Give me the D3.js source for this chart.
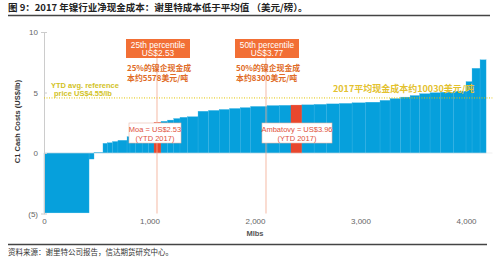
<!DOCTYPE html>
<html>
<head>
<meta charset="utf-8">
<script src="https://cdn.jsdelivr.net/npm/d3@7"></script>
<style>
  body { margin: 0; background: #fff; }
  text { font-family: "Liberation Sans", Arial, sans-serif; }
  .cjk { font-family: "Noto Sans CJK SC", sans-serif; }
</style>
</head>
<body>
<script>
// production width of each mine (Mlbs) and its C1 cash cost (US$/lb)
const widths = [427, 47, 85, 41, 50, 51, 86, 28, 55, 60, 60, 53, 66, 61, 60, 59, 71, 100,
  100, 100, 100, 100, 100, 154, 116, 111, 104, 115, 120, 120, 120, 130, 135,
  95, 100, 90, 90, 99, 101, 120, 120, 57, 76, 57];
const costs = [-4.95, -0.5, 0.05, 0.8, 0.85, 0.95, 1.05, 1.35, 1.5, 1.75, 2.05, 2.35, 2.53, 2.62, 2.72, 2.85, 2.95, 3.0,
  3.45, 3.52, 3.6, 3.68, 3.75, 3.85, 3.92, 3.94, 3.96, 3.98, 4.02, 4.06, 4.1, 4.15, 4.2,
  4.35, 4.5, 4.62, 4.75, 4.9, 4.98, 5.02, 5.1, 5.9, 7.0, 7.7];
const highlight = [12, 26]; // Moa, Ambatovy
const yTicks = [-5, 0, 5, 10];
const xTicks = [0, 1000, 2000, 3000, 4000];
const refPrice = 4.55;
const p25 = 1071, p50 = 2104;

const W = 500, H = 261;
const svg = d3.select('body').append('svg').attr('width', W).attr('height', H);

const x = d3.scaleLinear().domain([0, 4250]).range([44, 492.4]);
const y = d3.scaleLinear().domain([-5, 10]).range([213.5, 32]);

// title
svg.append('text').attr('class', 'cjk').attr('x', 8).attr('y', 11)
  .style('font-size', '9.5px').style('font-weight', 'bold').attr('fill', '#222')
  .text('图 9：2017 年镍行业净现金成本：谢里特成本低于平均值 （美元/磅）。');
svg.append('line').attr('x1', 8).attr('x2', 490).attr('y1', 15.5).attr('y2', 15.5)
  .attr('stroke', '#444').attr('stroke-width', 1.5);

// bars
let cum = 0;
const bars = widths.map((w, i) => {
  const b = { x0: cum, x1: cum + w, v: costs[i], hi: highlight.includes(i) };
  cum += w;
  return b;
});

svg.append('g').selectAll('rect').data(bars).join('rect')
  .attr('x', d => x(d.x0))
  .attr('width', d => x(d.x1) - x(d.x0))
  .attr('y', d => y(Math.max(0, d.v)))
  .attr('height', d => Math.abs(y(d.v) - y(0)))
  .attr('fill', d => (d.hi ? '#e8472e' : '#06a0dc'))
  .attr('stroke', d => (d.hi ? '#e8472e' : '#3ab3e4'))
  .attr('stroke-width', 0.3);

// zero line
svg.append('line').attr('x1', x(0)).attr('x2', x(4250)).attr('y1', y(0)).attr('y2', y(0))
  .attr('stroke', '#ddd').attr('stroke-width', 0.5);

// y axis
const yAxis = svg.append('g').attr('transform', `translate(${x(0)},0)`)
  .call(d3.axisLeft(y).tickValues(yTicks).tickSize(3)
    .tickFormat(d => (d < 0 ? `(${-d})` : d)));
yAxis.select('.domain').attr('stroke', '#ccc');
yAxis.selectAll('.tick line').attr('stroke', '#ccc').attr('x2', 3);
yAxis.selectAll('.tick text').attr('x', -6).attr('fill', '#666')
  .style('font-size', '8px').style('font-family', 'Liberation Sans, Arial, sans-serif');

svg.append('text').attr('transform', `translate(20,${y(2.6)}) rotate(-90)`)
  .attr('text-anchor', 'middle').attr('fill', '#333')
  .style('font-size', '7.5px').style('font-weight', 'bold')
  .text('C1 Cash Costs (US$/lb)');

// x axis labels
const xAxis = svg.append('g').attr('transform', `translate(0,${y(-5)})`)
  .call(d3.axisBottom(x).tickValues(xTicks).tickSize(0).tickPadding(5)
    .tickFormat(d3.format(',')));
xAxis.select('.domain').remove();
xAxis.selectAll('.tick text').attr('fill', '#666')
  .style('font-size', '8px').style('font-family', 'Liberation Sans, Arial, sans-serif');
svg.append('text').attr('x', x(2000)).attr('y', 236).attr('text-anchor', 'middle')
  .attr('fill', '#555').style('font-size', '7.5px').style('font-weight', 'bold').text('Mlbs');

// reference price
svg.append('line').attr('x1', x(0)).attr('x2', x(4250)).attr('y1', y(refPrice)).attr('y2', y(refPrice))
  .attr('stroke', '#e2c400').attr('stroke-width', 1).attr('stroke-dasharray', '1,1.5');
svg.append('text').attr('x', 51).attr('y', 88).attr('fill', '#d2c21e')
  .style('font-size', '7.5px').style('font-weight', 'bold').text('YTD avg. reference');
svg.append('text').attr('x', 54).attr('y', 95.5).attr('fill', '#d2c21e')
  .style('font-size', '7.5px').style('font-weight', 'bold').text('price US$4.55/lb');
svg.append('text').attr('class', 'cjk').attr('x', 333).attr('y', 91.5).attr('fill', '#e3c12e')
  .style('font-size', '9px').style('font-weight', 'bold').text('2017平均现金成本约10030美元/吨');

// percentile annotations
function percentile(px, boxX, label, price, cn1, cn2) {
  svg.append('line').attr('x1', x(px)).attr('x2', x(px)).attr('y1', 58).attr('y2', y(-5))
    .attr('stroke', '#f3a88e').attr('stroke-width', 0.8);
  svg.append('rect').attr('x', boxX).attr('y', 39).attr('width', 64).attr('height', 19)
    .attr('fill', '#f26f35');
  svg.append('text').attr('x', boxX + 32).attr('y', 47.5).attr('text-anchor', 'middle')
    .attr('fill', '#fff').style('font-size', '8.3px').text(label);
  svg.append('text').attr('x', boxX + 32).attr('y', 56).attr('text-anchor', 'middle')
    .attr('fill', '#fff').style('font-size', '8.3px').text(price);
  svg.append('text').attr('class', 'cjk').attr('x', boxX + 1).attr('y', 71).attr('fill', '#e06a24')
    .style('font-size', '7.9px').style('font-weight', 'bold').text(cn1);
  svg.append('text').attr('class', 'cjk').attr('x', boxX + 1).attr('y', 80.5).attr('fill', '#e06a24')
    .style('font-size', '7.9px').style('font-weight', 'bold').text(cn2);
}
percentile(p25, 126, '25th percentile', 'US$2.53', '25%的镍企现金成', '本约5578美元/吨');
percentile(p50, 235, '50th percentile', 'US$3.77', '50%的镍企现金成', '本约8300美元/吨');

// mine call-outs
function callout(bx, bw, l1, l2) {
  svg.append('rect').attr('x', bx).attr('y', 123).attr('width', bw).attr('height', 20)
    .attr('fill', '#fff').attr('stroke', '#e9b8aa').attr('stroke-width', 0.6);
  svg.append('text').attr('x', bx + bw / 2).attr('y', 131.5).attr('text-anchor', 'middle')
    .attr('fill', '#e0503a').style('font-size', '7.5px').text(l1);
  svg.append('text').attr('x', bx + bw / 2).attr('y', 140.5).attr('text-anchor', 'middle')
    .attr('fill', '#e0503a').style('font-size', '7.5px').text(l2);
}
callout(129, 52, 'Moa = US$2.53', '(YTD 2017)');
callout(262, 70, 'Ambatovy = US$3.96', '(YTD 2017)');

// footer
svg.append('line').attr('x1', 8).attr('x2', 487).attr('y1', 244.5).attr('y2', 244.5)
  .attr('stroke', '#444').attr('stroke-width', 1.5);
svg.append('text').attr('class', 'cjk').attr('x', 8).attr('y', 255)
  .style('font-size', '7.5px').attr('fill', '#333')
  .text('资料来源：谢里特公司报告，信达期货研究中心。');
</script>
</body>
</html>
